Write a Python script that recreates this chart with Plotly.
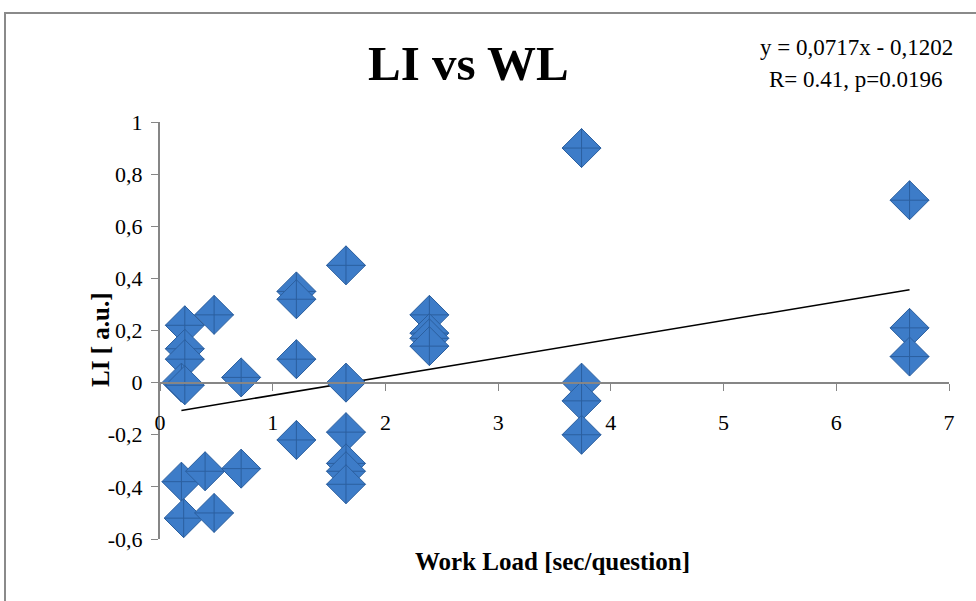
import plotly.graph_objects as go

# Work Load [sec/question] and LI [a.u.]
work_load = [0.22, 0.22, 0.22, 0.19, 0.22, 0.19, 0.21,
             0.48, 0.40, 0.48, 0.72, 0.72,
             1.21, 1.21, 1.21, 1.21,
             1.65, 1.65, 1.65, 1.65, 1.65, 1.65,
             2.39, 2.39, 2.39, 2.39,
             3.74, 3.74, 3.74, 3.74,
             6.65, 6.65, 6.65]
li_values = [0.22, 0.13, 0.09, 0.00, -0.01, -0.38, -0.52,
             0.26, -0.34, -0.50, 0.02, -0.33,
             0.35, 0.32, 0.09, -0.22,
             0.45, 0.00, -0.19, -0.31, -0.34, -0.39,
             0.26, 0.19, 0.17, 0.14,
             0.90, 0.00, -0.07, -0.20,
             0.70, 0.21, 0.10]

# Linear trend coefficients shown on the chart
slope = 0.0717
intercept = -0.1202

y_ticks = [-0.6, -0.4, -0.2, 0, 0.2, 0.4, 0.6, 0.8, 1]
y_tick_labels = ["-0,6", "-0,4", "-0,2", "0", "0,2", "0,4", "0,6", "0,8", "1"]
x_ticks = [0, 1, 2, 3, 4, 5, 6, 7]
x_tick_labels = ["0", "1", "2", "3", "4", "5", "6", "7"]

title_text = "LI vs WL"
eq_line1 = "y = 0,0717x - 0,1202"
eq_line2 = "R= 0.41, p=0.0196"
x_title = "Work Load [sec/question]"
y_title = "LI [ a.u.]"

FONT = "Liberation Serif"
AXIS_GRAY = "#868686"

x_min, x_max = min(work_load), max(work_load)
trend_x = [x_min, x_max]
trend_y = [slope * v + intercept for v in trend_x]

fig = go.Figure()
fig.add_trace(go.Scatter(
    x=trend_x, y=trend_y, mode="lines",
    line=dict(color="black", width=1.5),
    hoverinfo="skip", showlegend=False))
fig.add_trace(go.Scatter(
    x=work_load, y=li_values, mode="markers",
    marker=dict(symbol="diamond-cross", size=30, color="#3d7cc8",
                line=dict(color="#2b5f9f", width=1)),
    showlegend=False))

W, H = 976, 601
ml, mr, mt, mb = 160, 27, 122, 62
pw, ph = W - ml - mr, H - mt - mb

def px(xp):
    return (xp - ml) / pw

def py(yp):
    return (H - mb - yp) / ph

y_lo, y_hi = -0.6, 1.0

def ann(text, x, y, size, angle=0):
    return dict(text=text, xref="paper", yref="paper", x=px(x), y=py(y),
                xanchor="center", yanchor="middle", showarrow=False,
                textangle=angle,
                font=dict(family=FONT, size=size, color="black"))

fig.update_layout(
    width=W, height=H,
    margin=dict(l=ml, r=mr, t=mt, b=mb),
    paper_bgcolor="white", plot_bgcolor="white",
    font=dict(family=FONT, color="black"),
    xaxis=dict(
        range=[0, 7], tickvals=x_ticks, ticktext=x_tick_labels,
        showgrid=False, zeroline=False,
        showline=True, linecolor=AXIS_GRAY, linewidth=2,
        ticks="outside", ticklen=7, tickcolor=AXIS_GRAY, tickwidth=1,
        anchor="free", position=(0 - y_lo) / (y_hi - y_lo),
        tickfont=dict(family=FONT, size=22, color="black"),
        ticklabelstandoff=13,
    ),
    yaxis=dict(
        range=[y_lo, y_hi], tickvals=y_ticks, ticktext=y_tick_labels,
        showgrid=False, zeroline=False,
        showline=True, linecolor=AXIS_GRAY, linewidth=2,
        ticks="outside", ticklen=7, tickcolor=AXIS_GRAY, tickwidth=1,
        tickfont=dict(family=FONT, size=22, color="black"),
        ticklabelstandoff=4,
    ),
    shapes=[dict(type="rect", xref="paper", yref="paper",
                 x0=px(5), x1=px(1000), y0=py(640), y1=py(13),
                 line=dict(color="#8a8a8a", width=2), fillcolor="rgba(0,0,0,0)",
                 layer="below")],
    annotations=[
        ann("<b>" + title_text + "</b>", 468, 63, 49),
        ann(eq_line1, 856, 47, 23),
        ann(eq_line2, 856, 80, 23),
        ann("<b>" + x_title + "</b>", 552, 561, 25),
        ann("<b>" + y_title + "</b>", 100, 340, 25, angle=-90),
    ],
)

fig.write_html("out.html")
